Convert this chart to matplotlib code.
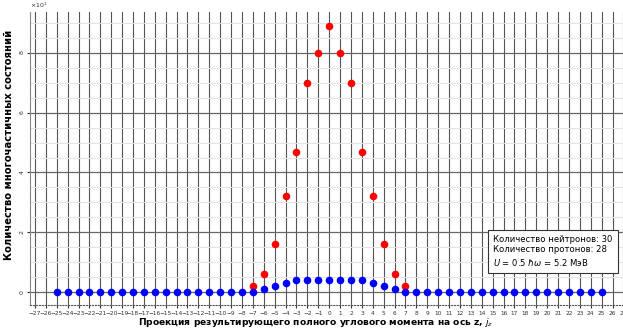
import numpy as np
import matplotlib
matplotlib.use("Agg")
import matplotlib.pyplot as plt
from matplotlib.ticker import MultipleLocator, ScalarFormatter

# projection of total angular momentum
j_all = list(range(-25, 26))
j_red = list(range(-7, 8))
# many-particle state counts
red_counts = [2, 6, 16, 32, 47, 70, 80, 89, 80, 70, 47, 32, 16, 6, 2]
# nonzero blue only for j in -6..6
blue_counts = [0] * 19 + [1, 2, 3, 4, 4, 4, 4, 4, 4, 4, 3, 2, 1] + [0] * 19

info_lines = ["Количество нейтронов: 30", "Количество протонов: 28",
              r"$U$ = 0.5 $\hbar\omega$ = 5.2 МэВ"]

fig = plt.figure(figsize=(6.23, 3.34), dpi=100)
ax = fig.add_axes([30 / 623, 29 / 334, 600 / 623, 293 / 334])

ax.scatter(j_red, red_counts, s=20, color="red", zorder=3)
ax.scatter(j_all, blue_counts, s=20, color="blue", zorder=4)

ax.set_xlim(-27.45, 27.6)
ax.set_ylim(-4.35, 93.7)

ax.xaxis.set_major_locator(MultipleLocator(1))
ax.yaxis.set_major_locator(MultipleLocator(20))
ax.yaxis.set_minor_locator(MultipleLocator(5))

fmt = ScalarFormatter(useMathText=True)
fmt.set_powerlimits((0, 0))
ax.yaxis.set_major_formatter(fmt)
ax.yaxis.get_offset_text().set_fontsize(4.5)

ax.grid(which="major", axis="x", color="#555555", linewidth=0.8)
ax.grid(which="major", axis="y", color="#666666", linewidth=0.9)
ax.grid(which="minor", axis="y", color="#e3e3e3", linewidth=0.8)
ax.set_axisbelow(True)

ax.tick_params(axis="x", labelsize=4.2, length=2, pad=2, colors="#333333")
ax.tick_params(axis="y", labelsize=4.5, length=2, pad=1, colors="#333333", labelrotation=90)
ax.tick_params(which="minor", length=0)

for s in ["top", "right"]:
    ax.spines[s].set_visible(False)
ax.spines["left"].set_color("#888888")
ax.spines["bottom"].set_linestyle(":")
ax.spines["bottom"].set_color("#555555")

ax.set_xlabel(r"Проекция результирующего полного углового момента на ось z, $j_z$",
              fontsize=6.6, fontweight="bold")
ax.xaxis.set_label_coords(0.477, -0.036)
ax.set_ylabel("Количество многочастичных состояний", fontsize=7.2, fontweight="bold")
ax.yaxis.set_label_coords(-0.027, 0.545)

ax.text(0.772, 0.184, "\n".join(info_lines), transform=ax.transAxes, fontsize=6.1,
        ha="left", va="center", linespacing=1.25,
        bbox=dict(boxstyle="square,pad=0.6", facecolor="white", edgecolor="#333333", linewidth=0.8))

fig.savefig("out.png", dpi=100)
